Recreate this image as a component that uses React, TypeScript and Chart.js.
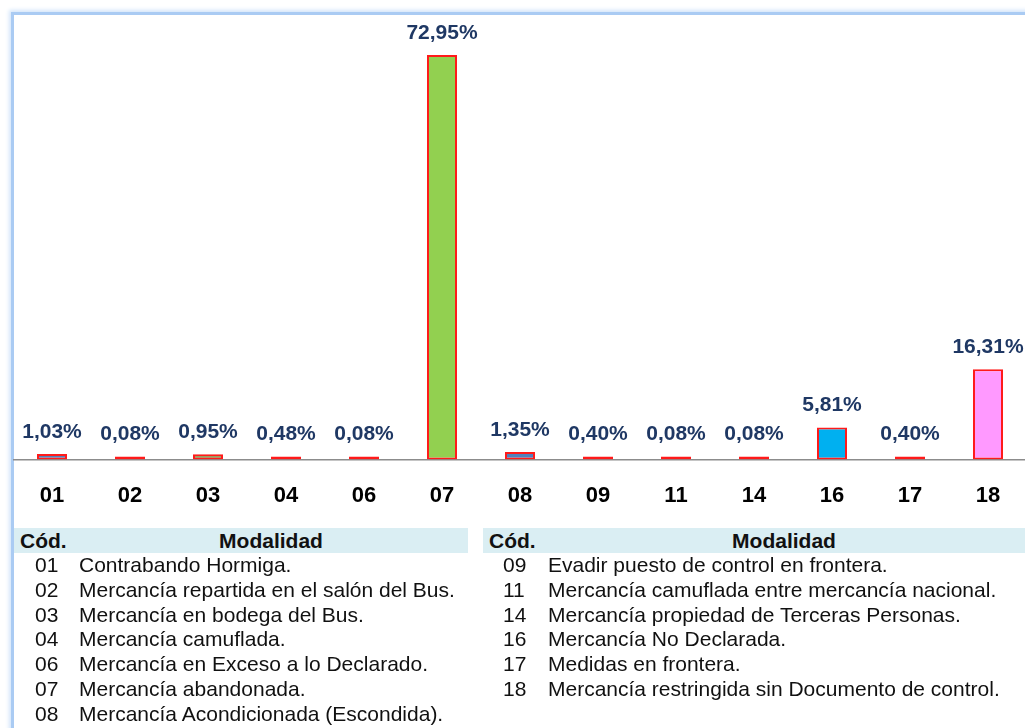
import React, { useEffect, useRef } from "react";
import { Chart, registerables } from "chart.js";

Chart.register(...registerables);

const codes = ["01", "02", "03", "04", "06", "07", "08", "09", "11", "14", "16", "17", "18"];
const percentages = [1.03, 0.08, 0.95, 0.48, 0.08, 72.95, 1.35, 0.4, 0.08, 0.08, 5.81, 0.4, 16.31];
const barColors = [
  "#4f81bd", "#e03c31", "#77933c", "#604a7b", "#e03c31", "#92d050", "#4f81bd",
  "#c0504d", "#e03c31", "#e03c31", "#00b0f0", "#e46c0a", "#ff99ff",
];

const leftCodes = ["01", "02", "03", "04", "06", "07", "08"];
const leftNames = [
  "Contrabando Hormiga.",
  "Mercancía repartida en el salón del Bus.",
  "Mercancía en bodega del Bus.",
  "Mercancía camuflada.",
  "Mercancía en Exceso a lo Declarado.",
  "Mercancía abandonada.",
  "Mercancía Acondicionada (Escondida).",
];
const rightCodes = ["09", "11", "14", "16", "17", "18"];
const rightNames = [
  "Evadir puesto de control en frontera.",
  "Mercancía camuflada entre mercancía nacional.",
  "Mercancía propiedad de Terceras Personas.",
  "Mercancía No Declarada.",
  "Medidas en frontera.",
  "Mercancía restringida sin Documento de control.",
];

const FONT = "'Liberation Sans', Arial, sans-serif";

const labelPlugin = {
  id: "valueLabels",
  afterDatasetsDraw(chart: any) {
    const ctx = chart.ctx;
    const meta = chart.getDatasetMeta(0);
    ctx.save();
    ctx.font = `bold 21px ${FONT}`;
    ctx.fillStyle = "#1f3864";
    ctx.textAlign = "center";
    ctx.textBaseline = "middle";
    meta.data.forEach((bar: any, i: number) => {
      const v = percentages[i];
      ctx.fillText(v.toFixed(2).replace(".", ",") + "%", bar.x, bar.y - 22);
    });
    ctx.restore();
  },
};

function Table(props: {
  left: number;
  width: number;
  codeLeft: number;
  nameLeft: number;
  codes: string[];
  names: string[];
}) {
  const { left, width, codeLeft, nameLeft, codes: cs, names } = props;
  return (
    <div style={{ position: "absolute", left, top: 528, width, fontFamily: FONT }}>
      <div
        style={{
          position: "relative",
          height: 25,
          background: "#daeef3",
          fontWeight: "bold",
          fontSize: 21,
          lineHeight: "25px",
          color: "#111",
        }}
      >
        <span style={{ position: "absolute", left: 6 }}>Cód.</span>
        <span style={{ position: "absolute", left: 0, right: 0, textAlign: "center", paddingLeft: 60 }}>
          Modalidad
        </span>
      </div>
      {cs.map((c, i) => (
        <div
          key={c}
          style={{ position: "relative", height: 24.8, lineHeight: "24.8px", fontSize: 21, color: "#111", whiteSpace: "nowrap" }}
        >
          <span style={{ position: "absolute", left: codeLeft }}>{c}</span>
          <span style={{ position: "absolute", left: nameLeft }}>{names[i]}</span>
        </div>
      ))}
    </div>
  );
}

export default function App() {
  const canvasRef = useRef<HTMLCanvasElement | null>(null);

  useEffect(() => {
    const canvas = canvasRef.current;
    if (!canvas) return;
    const chart = new Chart(canvas, {
      type: "bar",
      data: {
        labels: codes,
        datasets: [
          {
            data: percentages,
            backgroundColor: barColors,
            borderColor: "#ff1a1a",
            borderWidth: 2,
            borderSkipped: false,
            barPercentage: 0.385,
            categoryPercentage: 1,
            minBarLength: 3,
          },
        ],
      },
      options: {
        responsive: false,
        animation: false,
        devicePixelRatio: 1,
        layout: { padding: { top: 16, left: 0, right: 0, bottom: 0 } },
        plugins: {
          legend: { display: false },
          tooltip: { enabled: false },
        },
        scales: {
          y: {
            display: false,
            min: 0,
            max: 80,
          },
          x: {
            grid: { display: false, drawTicks: false },
            border: { display: true, color: "#8c8c8c", width: 1.5 },
            ticks: {
              padding: 23,
              color: "#000",
              font: { family: FONT, size: 22, weight: "bold" },
              maxRotation: 0,
              autoSkip: false,
            },
          },
        },
      },
      plugins: [labelPlugin],
    });
    return () => chart.destroy();
  }, []);

  return (
    <div
      style={{
        position: "absolute",
        left: 0,
        top: 0,
        width: 1025,
        height: 728,
        overflow: "hidden",
        background: "#fff",
      }}
    >
      <div
        style={{
          position: "absolute",
          left: 11,
          top: 12,
          width: 1100,
          height: 800,
          borderLeft: "3px solid #aacbf3",
          borderTop: "3px solid #aacbf3",
          boxShadow: "-2px -2px 4px #d3e5fa",
        }}
      />
      <canvas
        ref={canvasRef}
        width={1014}
        height={532}
        style={{ position: "absolute", left: 13, top: 0, width: 1014, height: 532 }}
      />
      <Table left={14} width={454} codeLeft={21} nameLeft={65} codes={leftCodes} names={leftNames} />
      <Table left={483} width={542} codeLeft={20} nameLeft={65} codes={rightCodes} names={rightNames} />
    </div>
  );
}
